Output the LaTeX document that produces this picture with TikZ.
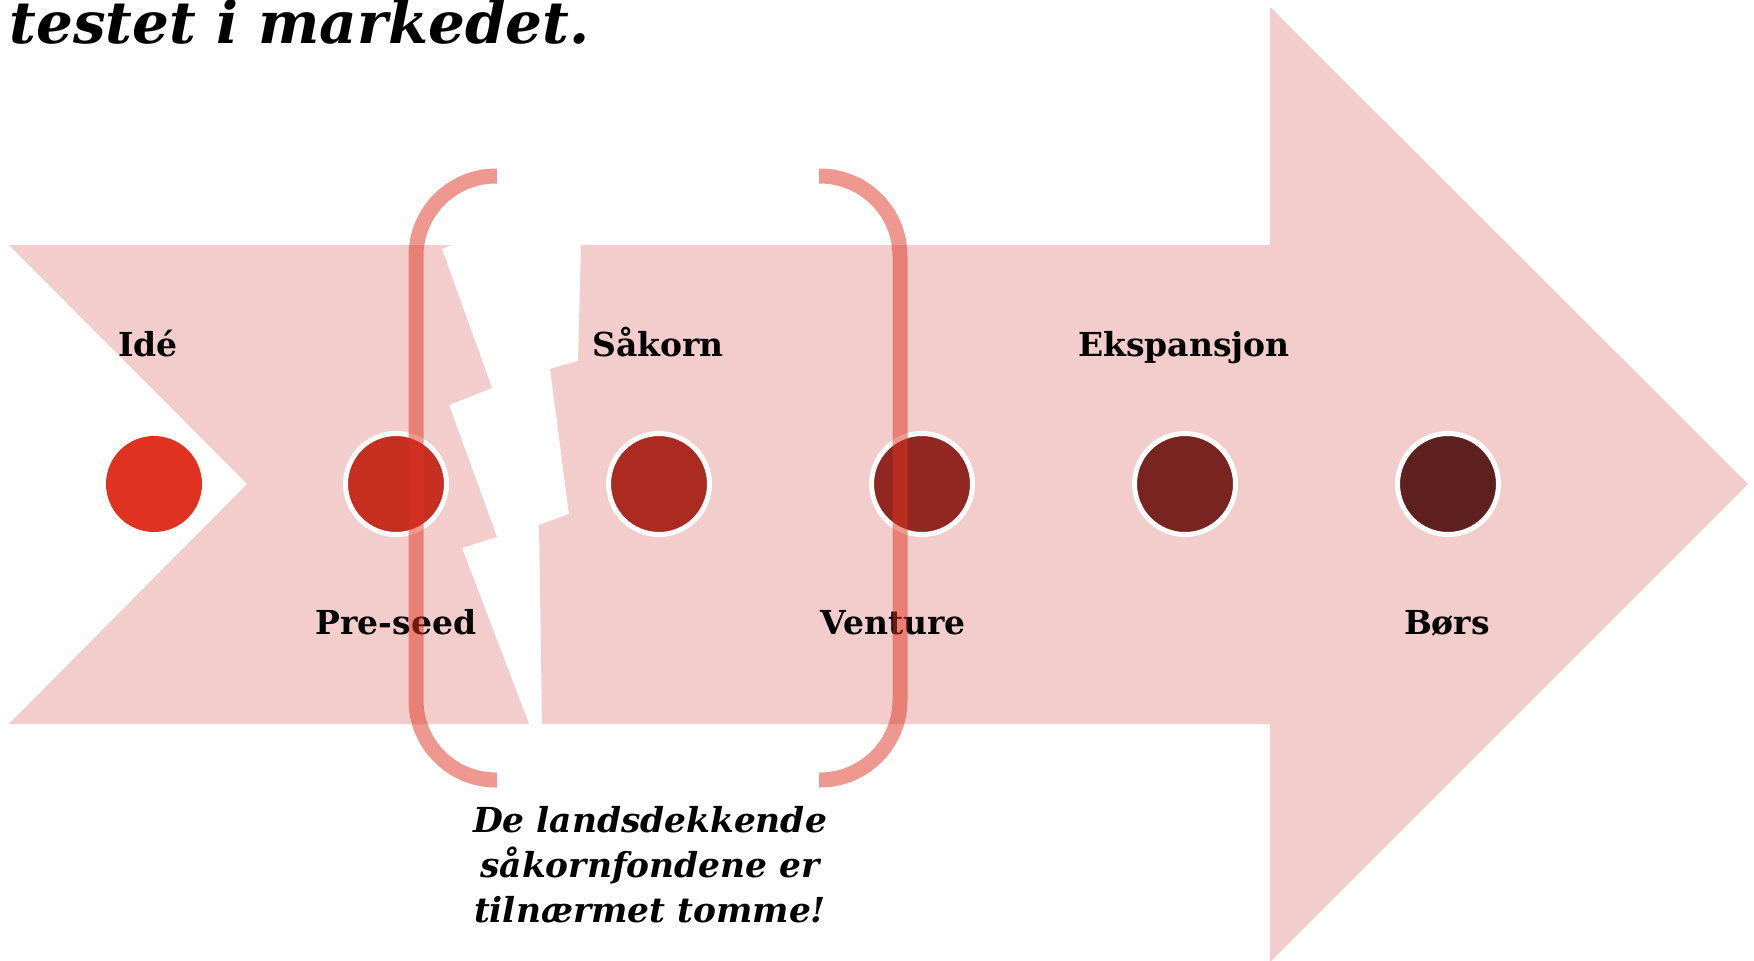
\documentclass[tikz,border=0pt]{standalone}
\usepackage{fontspec}
\setmainfont{DejaVu Serif}
\definecolor{pinkbg}{HTML}{F2CDCC}
\definecolor{cA}{RGB}{224,50,32}
\definecolor{cB}{RGB}{198,46,32}
\definecolor{cC}{RGB}{172,43,33}
\definecolor{cD}{RGB}{146,39,33}
\definecolor{cE}{RGB}{121,36,32}
\definecolor{cF}{RGB}{95,32,32}
\tikzset{
  arrowpart/.style={fill=pinkbg, draw=none},
  stagedot/.style={circle, inner sep=0pt, minimum size=50.5pt, draw=white, line width=2.5pt},
  firstdot/.style={circle, inner sep=0pt, minimum size=48pt, draw=none},
  stagelabel/.style={font=\bfseries\fontsize{16.5}{20}\selectfont, anchor=base, inner sep=0pt},
  bracketline/.style={draw=cA, draw opacity=0.5, line width=7.5pt, rounded corners=40pt},
  titletext/.style={font=\bfseries\itshape\fontsize{29}{34}\selectfont, anchor=base west, inner sep=0pt},
  notetext/.style={font=\bfseries\itshape\fontsize{17.2}{22.5}\selectfont, align=center, anchor=base, inner sep=0pt}
}
\begin{document}
\begin{tikzpicture}[x=0.5pt,y=-0.5pt]
\clip (0,0) rectangle (1754,960);
\fill[white] (0,0) rectangle (1754,960);
% arrow, left part
\fill[arrowpart] (9,245) -- (452,245) -- (442,249) -- (492,388) -- (449,405) -- (497,537) -- (462,548) -- (529,724) -- (9,724) -- (247,484) -- cycle;
% arrow, right part
\fill[arrowpart] (581,245) -- (1270,245) -- (1270,7) -- (1748,484) -- (1270,962) -- (1270,724) -- (542,724) -- (539,525) -- (569,514) -- (550,369) -- (578,361) -- cycle;
% title
\node[titletext] (title) at (9,43) {testet i markedet.};
% stage dots
\node[firstdot, fill=cA] (ide) at (154,484) {};
\node[stagedot, fill=cB] (pre) at (396,484) {};
\node[stagedot, fill=cC] (sak) at (659,484) {};
\node[stagedot, fill=cD] (ven) at (922,484) {};
\node[stagedot, fill=cE] (eks) at (1185,484) {};
\node[stagedot, fill=cF] (bor) at (1448,484) {};
% labels
\node[stagelabel] (lide) at (148,356) {Idé};
\node[stagelabel] (lpre) at (396,634) {Pre-seed};
\node[stagelabel] (lsak) at (658,356) {Såkorn};
\node[stagelabel] (lven) at (893,634) {Venture};
\node[stagelabel] (leks) at (1184,356) {Ekspansjon};
\node[stagelabel] (lbor) at (1447,634) {Børs};
% brackets
\coordinate (lbtop) at (497,176);
\coordinate (lbbot) at (497,780);
\coordinate (rbtop) at (819,176);
\coordinate (rbbot) at (819,780);
\draw[bracketline] (lbtop) -- (416,176) -- (416,780) -- (lbbot);
\draw[bracketline] (rbtop) -- (900,176) -- (900,780) -- (rbbot);
% note
\node[notetext] (note) at (650,922) {De landsdekkende\\såkornfondene er\\tilnærmet tomme!};
\end{tikzpicture}
\end{document}
